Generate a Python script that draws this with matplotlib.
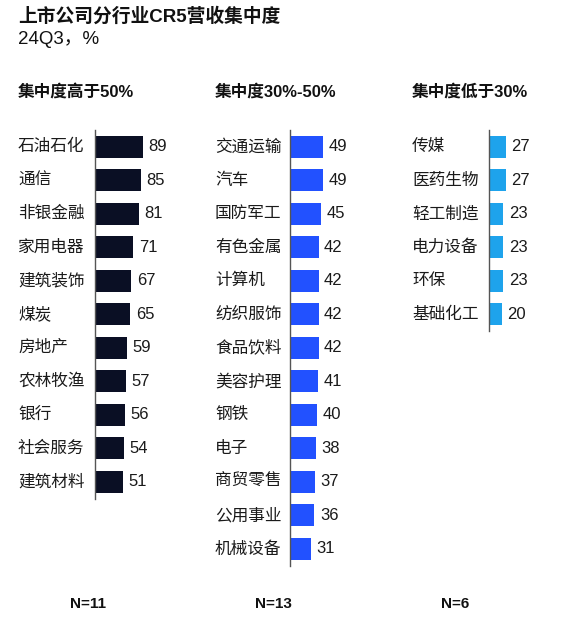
import matplotlib
matplotlib.use("Agg")
import matplotlib.pyplot as plt
from matplotlib.transforms import blended_transform_factory

plt.rcParams['font.family'] = ['Liberation Sans', 'Noto Sans CJK SC', 'DejaVu Sans']

# 数据
high_names = ["石油石化", "通信", "非银金融", "家用电器", "建筑装饰", "煤炭",
              "房地产", "农林牧渔", "银行", "社会服务", "建筑材料"]
high_vals = [89, 85, 81, 71, 67, 65, 59, 57, 56, 54, 51]

mid_names = ["交通运输", "汽车", "国防军工", "有色金属", "计算机", "纺织服饰",
             "食品饮料", "美容护理", "钢铁", "电子", "商贸零售", "公用事业", "机械设备"]
mid_vals = [49, 49, 45, 42, 42, 42, 42, 41, 40, 38, 37, 36, 31]

low_names = ["传媒", "医药生物", "轻工制造", "电力设备", "环保", "基础化工"]
low_vals = [27, 27, 23, 23, 23, 20]

headers = ["集中度高于50%", "集中度30%-50%", "集中度低于30%"]

W, H = 563, 631
fig = plt.figure(figsize=(W / 100, H / 100), dpi=100)

row_h = 33.5
top = 130
panels = [
    (high_names, high_vals, "#0a0f24", 95, 18, 0.54, 88),
    (mid_names, mid_vals, "#2251ff", 290, 215, 0.68, 273),
    (low_names, low_vals, "#1ea3ec", 489, 412, 0.63, 455),
]

for i, (names, vals, color, axx, labx, scale, nx) in enumerate(panels):
    n = len(names)
    ax_w = 70
    ax = fig.add_axes([axx / W, (H - (top + n * row_h)) / H, ax_w / W, n * row_h / H])
    ax.barh(range(n), vals, height=0.66, color=color)
    ax.set_ylim(n - 0.5, -0.5)
    ax.set_xlim(0, ax_w / scale)
    for s in ["top", "right", "bottom"]:
        ax.spines[s].set_visible(False)
    ax.spines["left"].set_color("#555555")
    ax.spines["left"].set_linewidth(1)
    ax.set_xticks([])
    ax.set_yticks([])
    ax.patch.set_alpha(0)
    tr = blended_transform_factory(fig.transFigure, ax.transData)
    for j, (nm, v) in enumerate(zip(names, vals)):
        ax.text(labx / W, j, nm, transform=tr, ha="left", va="center", fontsize=12, color="#1a1a1a")
        ax.annotate(str(v), xy=(v, j), xytext=(4, 0), textcoords="offset points",
                    ha="left", va="center", fontsize=12, color="#1a1a1a")
    fig.text(labx / W, 1 - 92 / H, headers[i], ha="left", va="center", fontsize=12,
             fontweight="bold", color="#111111")
    fig.text(nx / W, 1 - 604 / H, "N=%d" % n, ha="center", va="center", fontsize=11,
             fontweight="bold", color="#111111")

fig.text(18 / W, 1 - 17 / H, "上市公司分行业CR5营收集中度", ha="left", va="center",
         fontsize=13.5, fontweight="bold", color="#111111")
fig.text(18 / W, 1 - 40 / H, "24Q3，%", ha="left", va="center", fontsize=13.5, color="#111111")

fig.savefig("out.png", dpi=100, facecolor="white")
